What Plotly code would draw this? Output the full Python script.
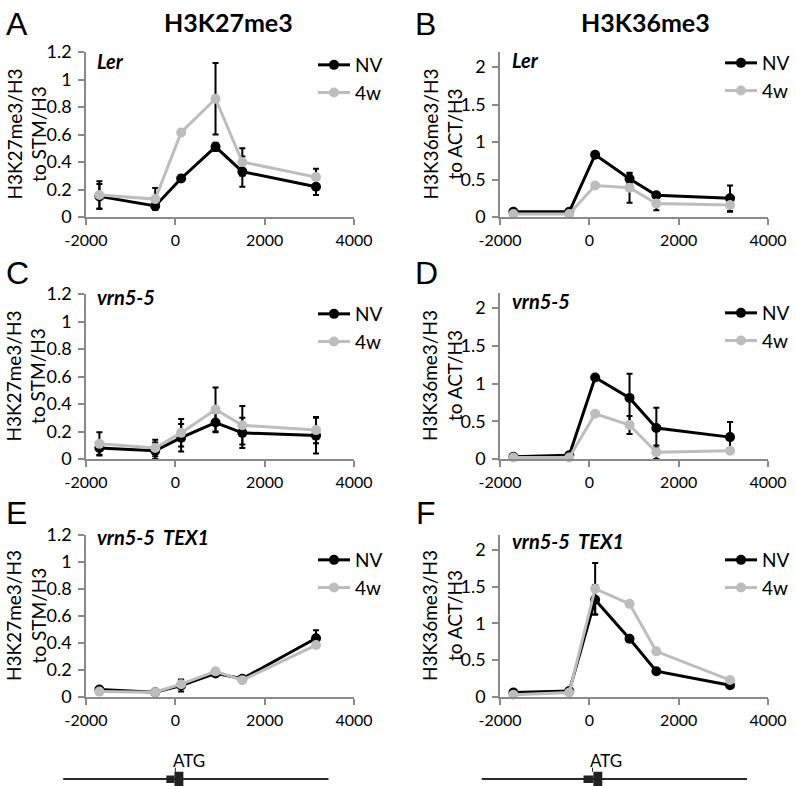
import plotly.graph_objects as go

# ---------------- data ----------------
positions = [-1700, -450, 130, 900, 1500, 3150]
series_names = ["NV", "4w"]
x_tickvals = [-2000, 0, 2000, 4000]
x_ticktext = ["-2000", "0", "2000", "4000"]
k27_ticks = [0, 0.2, 0.4, 0.6, 0.8, 1, 1.2]
k36_ticks = [0, 0.5, 1, 1.5, 2]

# A: H3K27me3, Ler
a_nv = [0.15, 0.08, 0.28, 0.51, 0.33, 0.22]
a_nv_err = [0.09, 0.02, 0.01, 0.03, 0.11, 0.06]
a_4w = [0.16, 0.13, 0.615, 0.86, 0.40, 0.29]
a_4w_err = [0.10, 0.08, 0.01, 0.26, 0.10, 0.06]
# B: H3K36me3, Ler
b_nv = [0.07, 0.07, 0.83, 0.51, 0.29, 0.25]
b_nv_err = [0.01, 0.01, 0.02, 0.07, 0.02, 0.17]
b_4w = [0.04, 0.04, 0.42, 0.39, 0.18, 0.16]
b_4w_err = [0.01, 0.01, 0.02, 0.20, 0.09, 0.09]
# C: H3K27me3, vrn5-5
c_nv = [0.08, 0.06, 0.155, 0.265, 0.19, 0.17]
c_nv_err = [0.05, 0.06, 0.10, 0.07, 0.11, 0.13]
c_4w = [0.11, 0.08, 0.19, 0.36, 0.245, 0.21]
c_4w_err = [0.085, 0.06, 0.10, 0.16, 0.14, 0.095]
# D: H3K36me3, vrn5-5
d_nv = [0.03, 0.05, 1.08, 0.81, 0.41, 0.29]
d_nv_err = [0.01, 0.01, 0.02, 0.32, 0.27, 0.20]
d_4w = [0.02, 0.02, 0.60, 0.45, 0.09, 0.11]
d_4w_err = [0.01, 0.01, 0.03, 0.12, 0.09, 0.02]
# E: H3K27me3, vrn5-5 TEX1
e_nv = [0.055, 0.035, 0.085, 0.175, 0.135, 0.435]
e_nv_err = [0.01, 0.005, 0.045, 0.02, 0.01, 0.06]
e_4w = [0.04, 0.035, 0.095, 0.19, 0.125, 0.385]
e_4w_err = [0.01, 0.005, 0.02, 0.015, 0.01, 0.01]
# F: H3K36me3, vrn5-5 TEX1
f_nv = [0.06, 0.08, 1.32, 0.79, 0.35, 0.16]
f_nv_err = [0.01, 0.01, 0.20, 0.02, 0.02, 0.02]
f_4w = [0.03, 0.06, 1.47, 1.265, 0.62, 0.23]
f_4w_err = [0.01, 0.01, 0.35, 0.02, 0.02, 0.02]

# gene models (genomic coordinates relative to ATG)
gene_left_line = [-2510, 3430]
gene_left_utr = [-200, -20]
gene_left_cds = [-20, 180]
gene_left_atg = 0
gene_right_line = [-2410, 3530]
gene_right_utr = [-130, 90]
gene_right_cds = [90, 290]
gene_right_atg = 70

panel_letters = ["A", "B", "C", "D", "E", "F"]
column_titles = ["H3K27me3", "H3K36me3"]
genotypes = ["Ler", "Ler", "vrn5-5", "vrn5-5", "vrn5-5  TEX1", "vrn5-5  TEX1"]
ytitle_k27 = "H3K27me3/H3<br>to STM/H3"
ytitle_k36 = "H3K36me3/H3<br>to ACT/H3"

# ---------------- layout helpers ----------------
W, H = 796, 786
def px(v):
    return v / W
def py(v):
    return 1 - v / H

BLACK = "#000000"
GREY = "#bdbdbd"
AXC = "#8a8a8a"
FONT = "Lato"

panels = [
    dict(nv=a_nv, nve=a_nv_err, w=a_4w, we=a_4w_err, left=86, bottom=217, top=52, k27=True),
    dict(nv=b_nv, nve=b_nv_err, w=b_4w, we=b_4w_err, left=500, bottom=217, top=52, k27=False),
    dict(nv=c_nv, nve=c_nv_err, w=c_4w, we=c_4w_err, left=86, bottom=459, top=294, k27=True),
    dict(nv=d_nv, nve=d_nv_err, w=d_4w, we=d_4w_err, left=500, bottom=459, top=293, k27=False),
    dict(nv=e_nv, nve=e_nv_err, w=e_4w, we=e_4w_err, left=86, bottom=697, top=535, k27=True),
    dict(nv=f_nv, nve=f_nv_err, w=f_4w, we=f_4w_err, left=500, bottom=697, top=535, k27=False),
]
legend_pos = [(313, 46), (720, 44), (313, 295), (720, 294), (313, 541), (720, 541)]
label_pos = [(95, 61), (510, 60), (95, 297), (510, 301), (95, 537), (510, 541)]
letter_pos = [(4, 24), (413, 24), (4, 273), (413, 273), (4, 513), (414, 513)]

fig = go.Figure()
layout = dict(
    template="none",
    width=W, height=H, margin=dict(l=0, r=0, t=0, b=0, pad=0, autoexpand=False),
    paper_bgcolor="white", plot_bgcolor="white",
    font=dict(family=FONT, color="black"),
    showlegend=True,
)
annotations = []
shapes = []

for i, p in enumerate(panels):
    n = i + 1
    xa = "x" if n == 1 else f"x{n}"
    ya = "y" if n == 1 else f"y{n}"
    leg = "legend" if n == 1 else f"legend{n}"
    for name, vals, errs, col in [(series_names[0], p["nv"], p["nve"], BLACK),
                                  (series_names[1], p["w"], p["we"], GREY)]:
        fig.add_trace(go.Scatter(
            x=positions, y=vals, name=name, mode="lines+markers",
            line=dict(color=col, width=3),
            marker=dict(color=col, size=10, symbol="circle"),
            error_y=dict(type="data", array=errs, visible=True, color=BLACK,
                         thickness=2, width=3),
            xaxis=xa, yaxis=ya, legend=leg, cliponaxis=False,
        ))
    xkey = "xaxis" if n == 1 else f"xaxis{n}"
    ykey = "yaxis" if n == 1 else f"yaxis{n}"
    layout[xkey] = dict(
        domain=[px(p["left"]), px(p["left"] + 268)], anchor=ya,
        range=[-2000, 4000], tickvals=x_tickvals, ticktext=x_ticktext,
        showline=True, linecolor=AXC, linewidth=1.5, ticks="outside",
        ticklen=6, tickcolor=AXC, tickwidth=1.5, showgrid=False, zeroline=False,
        tickfont=dict(family=FONT, size=16, color="black"), ticklabelstandoff=2,
        fixedrange=True, automargin=False,
    )
    layout[ykey] = dict(
        domain=[py(p["bottom"]), py(p["top"])], anchor=xa,
        range=[0, 1.2] if p["k27"] else [0, 2.2],
        tickvals=k27_ticks if p["k27"] else k36_ticks,
        showline=True, linecolor=AXC, linewidth=1.5, ticks="outside",
        ticklen=6, tickcolor=AXC, tickwidth=1.5, showgrid=False, zeroline=False,
        tickfont=dict(family=FONT, size=18, color="black"), ticklabelstandoff=3,
        fixedrange=True, automargin=False,
    )
    lx, ly = legend_pos[i]
    layout[leg] = dict(
        x=px(lx), y=py(ly), xanchor="left", yanchor="top",
        font=dict(family=FONT, size=19, color="black"),
        bgcolor="rgba(0,0,0,0)", borderwidth=0, itemwidth=32,
        tracegroupgap=0,
    )
    # y-axis title
    cx = 26 if p["k27"] else 442
    annotations.append(dict(
        text=ytitle_k27 if p["k27"] else ytitle_k36, textangle=-90,
        x=px(cx), y=py((p["top"] + p["bottom"]) / 2), xref="paper", yref="paper",
        xanchor="center", yanchor="middle", showarrow=False,
        font=dict(family=FONT, size=19, color="black"),
    ))
    # genotype label
    gx, gy = label_pos[i]
    annotations.append(dict(
        text=f"<b><i>{genotypes[i]}</i></b>", x=px(gx), y=py(gy),
        xref="paper", yref="paper", xanchor="left", yanchor="middle",
        showarrow=False, font=dict(family=FONT, size=20, color="black"),
    ))
    # panel letter
    tx, ty = letter_pos[i]
    annotations.append(dict(
        text=panel_letters[i], x=px(tx), y=py(ty), xref="paper", yref="paper",
        xanchor="left", yanchor="middle", showarrow=False,
        font=dict(family="Liberation Sans", size=32, color="black"),
    ))

# column titles
for cx, t in zip([228, 645], column_titles):
    annotations.append(dict(
        text=f"<b>{t}</b>", x=px(cx), y=py(22), xref="paper", yref="paper",
        xanchor="center", yanchor="middle", showarrow=False,
        font=dict(family=FONT, size=25, color="black"),
    ))

# gene diagrams on hidden axes with the same horizontal scale as the panels
scale = 268 / 6000.0
for n, left, line, utr, cds, atg in [
        (7, 86, gene_left_line, gene_left_utr, gene_left_cds, gene_left_atg),
        (8, 500, gene_right_line, gene_right_utr, gene_right_cds, gene_right_atg)]:
    xa, ya = f"x{n}", f"y{n}"
    layout[f"xaxis{n}"] = dict(domain=[px(left - 1000 * scale), px(left + 268)],
                               range=[-3000, 4000], visible=False, anchor=ya,
                               fixedrange=True, automargin=False)
    layout[f"yaxis{n}"] = dict(domain=[0, 30 / H], range=[0, 4], visible=False,
                               anchor=xa, fixedrange=True, automargin=False)
    fig.add_trace(go.Scatter(x=line, y=[0.93, 0.93], mode="lines",
                             line=dict(color="#2a2a2a", width=2),
                             xaxis=xa, yaxis=ya, showlegend=False,
                             hoverinfo="skip"))
    shapes.append(dict(type="rect", xref=xa, yref=ya, x0=utr[0], x1=utr[1],
                       y0=0.4, y1=1.4, fillcolor="#222222", line=dict(width=0)))
    shapes.append(dict(type="rect", xref=xa, yref=ya, x0=cds[0], x1=cds[1],
                       y0=0, y1=1.9, fillcolor="#222222", line=dict(width=0)))
    shapes.append(dict(type="line", xref=xa, yref=ya, x0=atg, x1=atg,
                       y0=1.9, y1=2.45, line=dict(color="#222222", width=1)))
    annotations.append(dict(text="ATG", x=atg, y=3.35, xref=xa, yref=ya,
                            xanchor="left", yanchor="middle", xshift=-4,
                            showarrow=False,
                            font=dict(family=FONT, size=17, color="black")))

layout["annotations"] = annotations
layout["shapes"] = shapes
fig.update_layout(**layout)
fig.write_html("out.html", config={"displayModeBar": False},
               post_script="document.body.style.margin='0';")
